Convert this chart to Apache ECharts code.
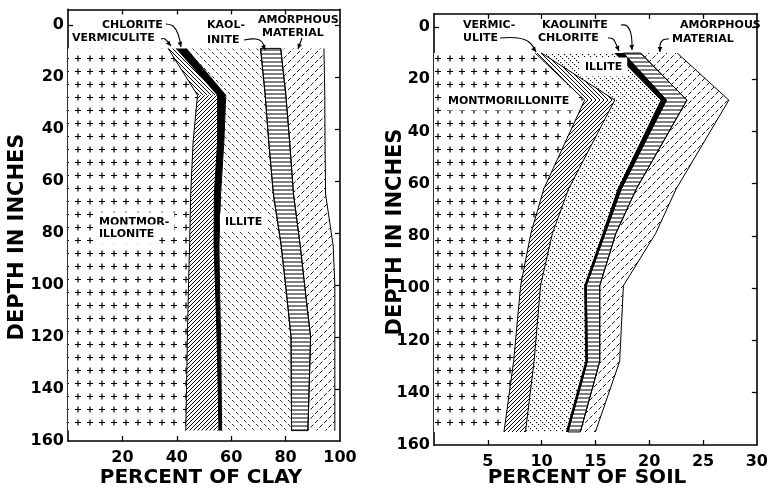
<!DOCTYPE html>
<html><head><meta charset="utf-8">
<script src="https://cdn.jsdelivr.net/npm/echarts@6/dist/echarts.min.js"></script>
<style>html,body{margin:0;padding:0;background:#fff}#c{width:771px;height:489px}</style>
</head><body><div id="c"></div><script>
// ---- data: percent of clay (left panel) ----
const clayDepth = [9, 27, 45, 65, 85, 100, 120, 156];
const clayMontmorillonite = [36.8, 47.6, 46.0, 45.1, 44.7, 44.3, 43.9, 43.3];
const clayVermiculite = [3.0, 7.4, 9.0, 8.7, 9.0, 9.9, 10.9, 12.2];
const clayChlorite = [3.7, 3.0, 2.3, 2.3, 1.8, 1.5, 1.3, 1.0];
const clayIllite = [27.3, 14.5, 16.5, 19.4, 22.9, 24.3, 25.9, 25.7];
const clayKaolinite = [7.4, 7.6, 7.7, 7.4, 7.0, 7.0, 7.2, 6.0];
const clayAmorphous = [15.9, 14.3, 13.0, 11.8, 12.1, 11.1, 8.9, 9.9];

// ---- data: percent of soil (right panel) ----
const soilDepth = [10, 28, 62, 79, 99, 128, 155];
const soilMontmorillonite = [9.4, 14.0, 10.2, 9.0, 8.05, 7.4, 6.5];
const soilVermiculite = [0.6, 2.8, 2.3, 2.0, 1.85, 1.9, 2.0];
const soilIllite = [6.8, 4.3, 4.6, 4.7, 4.1, 4.8, 3.8];
const soilChlorite = [0.8, 0.5, 0.3, 0.2, 0.15, 0.15, 0.15];
const soilKaolinite = [1.6, 1.9, 1.4, 1.0, 1.25, 1.15, 1.15];
const soilAmorphous = [3.4, 3.9, 3.7, 3.7, 2.2, 1.85, 1.4];

// ---- tick labels ----
const depthTicks = [0, 20, 40, 60, 80, 100, 120, 140, 160];
const clayTicks = [20, 40, 60, 80, 100];
const soilTicks = [5, 10, 15, 20, 25, 30];

// ---- patterns ----
function makeTile(w, h, draw) {
  const c = document.createElement('canvas');
  c.width = w; c.height = h;
  const ctx = c.getContext('2d');
  ctx.fillStyle = '#fff'; ctx.fillRect(0, 0, w, h);
  ctx.strokeStyle = '#000'; ctx.fillStyle = '#000';
  draw(ctx, w, h);
  return { image: c, repeat: 'repeat' };
}
function segs(ctx, w, h, list, lw) {
  ctx.lineWidth = lw; ctx.beginPath();
  for (const s of list) for (const dx of [-w, 0, w]) for (const dy of [-h, 0, h]) {
    ctx.moveTo(s[0] + dx, s[1] + dy); ctx.lineTo(s[2] + dx, s[3] + dy);
  }
  ctx.stroke();
}
const pPlus = makeTile(12, 13, (c, w, h) => segs(c, w, h, [[3, 6.5, 9, 6.5], [6, 3.5, 6, 9.5]], 1.2));
const pSlash = makeTile(4, 4, (c, w, h) => segs(c, w, h, [[0, 4, 4, 0]], 1));
const pBack = makeTile(4, 4, (c, w, h) => segs(c, w, h, [[0, 0, 4, 4]], 1));
const pIlliteClay = makeTile(8, 8, (c, w, h) => segs(c, w, h, [[0, 0, 2.5, 2.5], [4, 4, 6.5, 6.5]], 0.8));
const pIlliteSoil = makeTile(6, 6, (c, w, h) => { for (const k of [0, 2, 4]) c.fillRect(k, k, 1.1, 1.1); });
const pHoriz = makeTile(4, 4, (c, w, h) => segs(c, w, h, [[0, 2, 4, 2]], 1));
const pDash = makeTile(9, 9, (c, w, h) => segs(c, w, h, [[0, 9, 3, 6], [4.5, 4.5, 7.5, 1.5]], 0.9));

function buildSeries(axisIdx, depth, layers) {
  let cum = depth.map(() => 0);
  const out = [];
  layers.forEach(L => {
    const left = cum.slice();
    const right = cum.map((c, i) => c + L.values[i]);
    cum = right;
    const n = depth.length;
    out.push({
      type: 'custom', name: L.name, xAxisIndex: axisIdx, yAxisIndex: axisIdx,
      coordinateSystem: 'cartesian2d', silent: true, clip: false,
      data: [[0, depth[0]]],
      renderItem: (params, api) => {
        const P = (x, y) => api.coord([x, y]);
        const children = [];
        const seg = (i0, i1, fill) => {
          const pts = [];
          for (let i = i0; i <= i1; i++) pts.push(P(left[i], depth[i]));
          for (let i = i1; i >= i0; i--) pts.push(P(right[i], depth[i]));
          children.push({ type: 'polygon', shape: { points: pts },
            style: { fill: fill, stroke: L.outline ? '#000' : null, lineWidth: 1 }, z2: L.outline ? 5 : 0 });
        };
        if (L.fillTop) { seg(0, 1, L.fillTop); seg(1, n - 1, L.fill); }
        else seg(0, n - 1, L.fill);
        children.push({ type: 'polyline', shape: { points: depth.map((d, i) => P(right[i], d)) },
          style: { stroke: '#000', lineWidth: 1, fill: null }, z2: 10 });
        return { type: 'group', children };
      }
    });
  });
  return out;
}

const series = [].concat(
  buildSeries(0, clayDepth, [
    { name: 'Montmorillonite', values: clayMontmorillonite, fill: pPlus },
    { name: 'Vermiculite', values: clayVermiculite, fill: pSlash, fillTop: pBack },
    { name: 'Chlorite', values: clayChlorite, fill: '#000' },
    { name: 'Illite', values: clayIllite, fill: pIlliteClay },
    { name: 'Kaolinite', values: clayKaolinite, fill: pHoriz, outline: true },
    { name: 'Amorphous material', values: clayAmorphous, fill: pDash }
  ]),
  buildSeries(1, soilDepth, [
    { name: 'Montmorillonite', values: soilMontmorillonite, fill: pPlus },
    { name: 'Vermiculite', values: soilVermiculite, fill: pSlash, fillTop: pBack },
    { name: 'Illite', values: soilIllite, fill: pIlliteSoil },
    { name: 'Chlorite', values: soilChlorite, fill: '#000' },
    { name: 'Kaolinite', values: soilKaolinite, fill: pHoriz, outline: true },
    { name: 'Amorphous material', values: soilAmorphous, fill: pDash }
  ])
);

const FONT = 'DejaVu Sans';
const axLine = { show: true, onZero: false, lineStyle: { color: '#000', width: 1.6 } };
const tickStyle = { color: '#000', width: 1.3 };
function xAx(grid, pos, max, labels, ticks, showLabel) {
  return {
    type: 'value', gridIndex: grid, position: pos, min: 0, max: max,
    axisLine: axLine, splitLine: { show: false },
    axisTick: { show: true, inside: true, length: 5, lineStyle: tickStyle, customValues: ticks },
    axisLabel: { show: showLabel, customValues: labels, color: '#000', fontFamily: FONT, fontWeight: 'bold', fontSize: 16, margin: 9 }
  };
}
function yAx(grid, pos, min, showLabel) {
  return {
    type: 'value', gridIndex: grid, position: pos, min: min, max: 160, inverse: true,
    axisLine: axLine, splitLine: { show: false },
    axisTick: { show: true, inside: true, length: 5, lineStyle: tickStyle, customValues: depthTicks.slice(0, -1) },
    axisLabel: { show: showLabel, customValues: depthTicks, color: '#000', fontFamily: FONT, fontWeight: 'bold', fontSize: 16, margin: 4 }
  };
}

const annFont = 'bold 11px "DejaVu Sans"';
function txt(t, x, y, bg) {
  const o = { type: 'text', x: x, y: y, z: 100, style: { text: t, font: annFont, fill: '#000', verticalAlign: 'middle' } };
  if (bg) { o.style.backgroundColor = '#fff'; o.style.padding = [4, 5]; }
  return o;
}
function arrow(pts) {
  const a = pts[pts.length - 1], b = pts[pts.length - 2];
  const ang = Math.atan2(a[1] - b[1], a[0] - b[0]);
  const L = 5, W = 2.4;
  const bx = a[0] - L * Math.cos(ang), by = a[1] - L * Math.sin(ang);
  const nx = -Math.sin(ang) * W, ny = Math.cos(ang) * W;
  return [
    { type: 'polyline', z: 100, shape: { points: pts, smooth: 0.4 }, style: { stroke: '#000', lineWidth: 1.1, fill: null } },
    { type: 'polygon', z: 100, shape: { points: [a, [bx + nx, by + ny], [bx - nx, by - ny]] }, style: { fill: '#000' } }
  ];
}
const nameFont = 'bold 20px "DejaVu Sans"';
const yNameFont = 'bold 21px "DejaVu Sans"';
const graphic = [].concat(
  [txt('CHLORITE', 102, 25), txt('VERMICULITE', 72, 38), txt('KAOL-', 207, 25), txt('INITE', 207, 40),
   txt('AMORPHOUS', 258, 20), txt('MATERIAL', 262, 33),
   txt('MONTMOR-', 94, 222, true), txt('ILLONITE', 94, 234, true), txt('ILLITE', 220, 222, true),
   txt('VERMIC-', 463, 25), txt('ULITE', 463, 38), txt('KAOLINITE', 542, 25), txt('CHLORITE', 538, 38),
   txt('AMORPHOUS', 680, 25), txt('MATERIAL', 672, 39),
   txt('ILLITE', 580, 67, true), txt('MONTMORILLONITE', 443, 101, true)],
  arrow([[166, 24], [173, 26], [178, 34], [181, 47]]),
  arrow([[161, 39], [165, 39], [171, 46]]),
  arrow([[244, 40], [256, 39], [262, 42], [265, 50]]),
  arrow([[302, 38], [298, 49]]),
  arrow([[500, 38], [518, 38], [529, 42], [536, 52]]),
  arrow([[621, 25], [627, 26], [631, 34], [632, 50]]),
  arrow([[608, 38], [613, 39], [616, 44], [619, 51]]),
  arrow([[669, 39], [663, 40], [660, 45], [660, 52]]),
  [
    { type: 'text', x: 18, y: 237, rotation: Math.PI / 2, style: { text: 'DEPTH IN INCHES', font: yNameFont, fill: '#000', align: 'center', verticalAlign: 'middle' } },
    { type: 'text', x: 396, y: 232, rotation: Math.PI / 2, style: { text: 'DEPTH IN INCHES', font: yNameFont, fill: '#000', align: 'center', verticalAlign: 'middle' } },
    { type: 'text', x: 201, y: 478, style: { text: 'PERCENT OF CLAY', font: nameFont, fill: '#000', align: 'center', verticalAlign: 'middle' } },
    { type: 'text', x: 587, y: 478, style: { text: 'PERCENT OF SOIL', font: nameFont, fill: '#000', align: 'center', verticalAlign: 'middle' } }
  ]
);

const chart = echarts.init(document.getElementById('c'), null, { renderer: 'canvas' });
chart.setOption({
  animation: false,
  backgroundColor: '#fff',
  grid: [
    { left: 68, top: 9.4, width: 272, height: 431.6 },
    { left: 434, top: 13.9, width: 324, height: 431.1 }
  ],
  xAxis: [
    xAx(0, 'bottom', 100, clayTicks, [20, 40, 60, 80], true),
    xAx(1, 'bottom', 30, soilTicks, [5, 10, 15, 20, 25], true),
    xAx(0, 'top', 100, clayTicks, [20, 40, 60, 80], false),
    xAx(1, 'top', 30, soilTicks, [5, 10, 15, 20, 25], false)
  ],
  yAxis: [
    yAx(0, 'left', -6, true),
    yAx(1, 'left', -5, true),
    yAx(0, 'right', -6, false),
    yAx(1, 'right', -5, false)
  ],
  series: series,
  graphic: graphic
});
</script></body></html>
